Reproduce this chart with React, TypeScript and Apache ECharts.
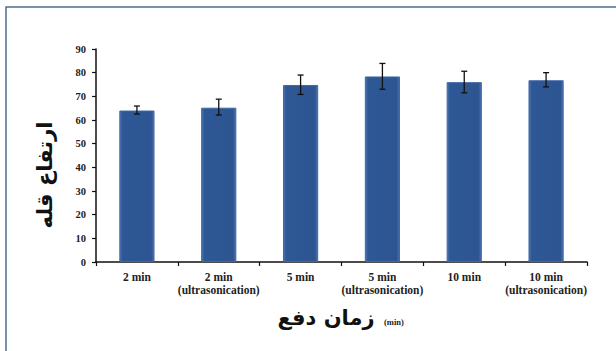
import React, { useEffect, useRef } from "react";
import * as echarts from "echarts";

const categories = [
  "2 min",
  "2 min\n(ultrasonication)",
  "5 min",
  "5 min\n(ultrasonication)",
  "10 min",
  "10 min\n(ultrasonication)",
];
const peakHeight = [64, 65.2, 74.8, 78.4, 76, 76.8];
const errorLow = [62.5, 62.1, 70.8, 73.0, 71.5, 74.0];
const errorHigh = [65.9, 68.8, 79.0, 83.9, 80.6, 80.0];
const yTicks = { min: 0, max: 90, interval: 10 };

export default function App() {
  const ref = useRef<HTMLDivElement>(null);

  useEffect(() => {
    document.body.style.margin = "0";
    const chart = echarts.init(ref.current!, null, { renderer: "svg" });

    const barGradient = new echarts.graphic.LinearGradient(0, 0, 1, 0, [
      { offset: 0, color: "#4B74B0" },
      { offset: 0.08, color: "#2E5895" },
      { offset: 0.92, color: "#2C5591" },
      { offset: 1, color: "#4B74B0" },
    ]);

    chart.setOption({
      animation: false,
      backgroundColor: "#ffffff",
      grid: { left: 96, right: 29, top: 49, bottom: 89 },
      xAxis: {
        type: "category",
        data: categories,
        axisLine: { lineStyle: { color: "#111", width: 1.5 } },
        axisTick: { show: true, length: 4, inside: false, lineStyle: { color: "#111", width: 1.2 } },
        axisLabel: {
          fontFamily: "Liberation Serif",
          fontWeight: "bold",
          fontSize: 11.5,
          color: "#222",
          lineHeight: 13,
          margin: 8,
          interval: 0,
        },
      },
      yAxis: {
        type: "value",
        min: yTicks.min,
        max: yTicks.max,
        interval: yTicks.interval,
        axisLine: { show: true, lineStyle: { color: "#111", width: 1.5 } },
        axisTick: { show: true, length: 4, lineStyle: { color: "#111", width: 1.2 } },
        splitLine: { show: false },
        axisLabel: {
          fontFamily: "Liberation Serif",
          fontWeight: "bold",
          fontSize: 10.5,
          color: "#222",
          margin: 10,
        },
      },
      series: [
        {
          type: "bar",
          data: peakHeight,
          barWidth: "43%",
          itemStyle: {
            color: barGradient,
            borderColor: "#3F68A6",
            borderWidth: 1,
          },
        },
        {
          type: "custom",
          data: categories.map((_, i) => [i, errorLow[i], errorHigh[i]]),
          z: 10,
          renderItem: (params: any, api: any) => {
            const i = api.value(0);
            const lo = api.coord([i, api.value(1)]);
            const hi = api.coord([i, api.value(2)]);
            const cap = 3;
            const style = { stroke: "#111", lineWidth: 1.3 };
            return {
              type: "group",
              children: [
                { type: "line", shape: { x1: hi[0], y1: hi[1], x2: lo[0], y2: lo[1] }, style },
                { type: "line", shape: { x1: hi[0] - cap, y1: hi[1], x2: hi[0] + cap, y2: hi[1] }, style },
                { type: "line", shape: { x1: lo[0] - cap, y1: lo[1], x2: lo[0] + cap, y2: lo[1] }, style },
              ],
            };
          },
        },
      ],
      graphic: [
        {
          type: "rect",
          shape: { x: 6, y: 7, width: 640, height: 400 },
          style: { fill: "none", stroke: "#4F6E8F", lineWidth: 1.5 },
          silent: true,
        },
        {
          type: "text",
          x: 45,
          y: 175,
          rotation: Math.PI / 2,
          style: {
            text: "ارتفاع قله",
            fontFamily: "DejaVu Sans",
            fontWeight: "bold",
            fontSize: 21,
            fill: "#111",
            align: "center",
            verticalAlign: "middle",
          },
        },
        {
          type: "text",
          x: 326,
          y: 318,
          style: {
            text: "زمان دفع",
            fontFamily: "DejaVu Sans",
            fontWeight: "bold",
            fontSize: 21,
            fill: "#111",
            align: "center",
            verticalAlign: "middle",
          },
        },
        {
          type: "text",
          x: 384,
          y: 322,
          style: {
            text: "(min)",
            fontFamily: "Liberation Serif",
            fontWeight: "bold",
            fontSize: 8.5,
            fill: "#222",
            align: "left",
            verticalAlign: "middle",
          },
        },
      ],
    });

    return () => chart.dispose();
  }, []);

  return <div ref={ref} style={{ width: 616, height: 351 }} />;
}
